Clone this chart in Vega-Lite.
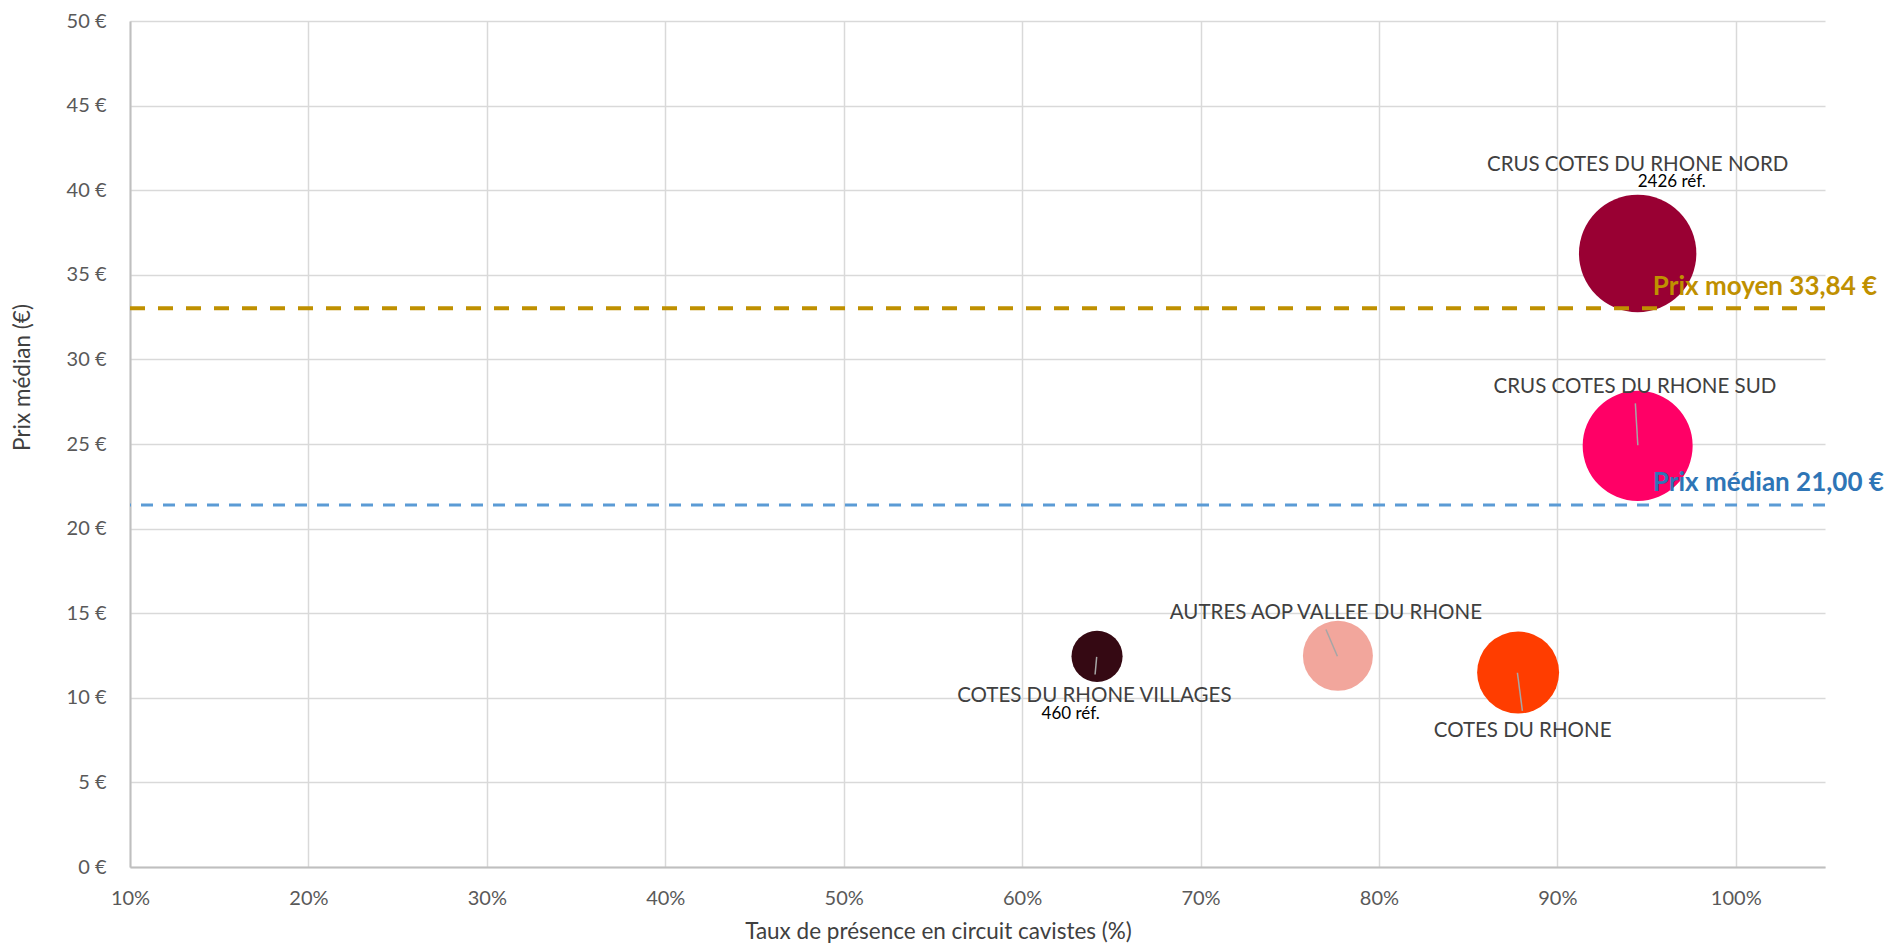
{
  "$schema": "https://vega.github.io/schema/vega-lite/v6.json",
  "width": 1695,
  "height": 846,
  "autosize": {"type": "none"},
  "padding": {"left": 130, "top": 21, "right": 60, "bottom": 77},
  "background": "white",
  "config": {"view": {"stroke": null}, "font": "Lato"},
  "datasets": {
    "bubbles": [
      {"appellation": "CRUS COTES DU RHONE NORD", "presence": 0.945, "prix": 36.26, "refs": 2426},
      {"appellation": "CRUS COTES DU RHONE SUD", "presence": 0.945, "prix": 24.89, "refs": 2130},
      {"appellation": "COTES DU RHONE VILLAGES", "presence": 0.642, "prix": 12.45, "refs": 460},
      {"appellation": "AUTRES AOP VALLEE DU RHONE", "presence": 0.777, "prix": 12.48, "refs": 862},
      {"appellation": "COTES DU RHONE", "presence": 0.878, "prix": 11.49, "refs": 1183}
    ],
    "lines": [
      {"label": "Prix moyen 33,84 €", "prix": 33.03},
      {"label": "Prix médian 21,00 €", "prix": 21.39}
    ],
    "leaders": [
      {"appellation": "CRUS COTES DU RHONE SUD", "presence": 0.9437, "prix": 27.40, "presence_end": 0.9451, "prix_end": 24.93},
      {"appellation": "COTES DU RHONE VILLAGES", "presence": 0.6418, "prix": 12.42, "presence_end": 0.6409, "prix_end": 11.38},
      {"appellation": "AUTRES AOP VALLEE DU RHONE", "presence": 0.7703, "prix": 14.04, "presence_end": 0.7767, "prix_end": 12.46},
      {"appellation": "COTES DU RHONE", "presence": 0.8776, "prix": 11.48, "presence_end": 0.8804, "prix_end": 9.23}
    ]
  },
  "layer": [
    {
      "data": {"name": "bubbles"},
      "mark": {"type": "circle", "opacity": 1},
      "encoding": {
        "x": {
          "field": "presence", "type": "quantitative",
          "scale": {"domain": [0.1, 1.05], "nice": false, "zero": false},
          "axis": {
            "values": [0.1, 0.2, 0.3, 0.4, 0.5, 0.6, 0.7, 0.8, 0.9, 1.0],
            "format": ".0%",
            "grid": true, "gridColor": "#D9D9D9", "gridWidth": 1.5,
            "domainColor": "#BFBFBF", "domainWidth": 2,
            "ticks": false, "tickSize": 0,
            "labelFont": "Lato", "labelFontSize": 20, "labelColor": "#595959",
            "labelPadding": 31, "labelBaseline": "middle",
            "labelFlush": false, "labelOverlap": false,
            "title": "Taux de présence en circuit cavistes (%)",
            "titleFont": "Lato", "titleFontSize": 22.5, "titleFontWeight": "normal", "titleColor": "#404040",
            "titleX": 808, "titleY": 64, "titleAlign": "center", "titleBaseline": "middle"
          }
        },
        "y": {
          "field": "prix", "type": "quantitative",
          "scale": {"domain": [0, 50], "nice": false, "zero": true},
          "axis": {
            "values": [0, 5, 10, 15, 20, 25, 30, 35, 40, 45, 50],
            "labelExpr": "datum.value + ' €'",
            "grid": true, "gridColor": "#D9D9D9", "gridWidth": 1.5,
            "domainColor": "#BFBFBF", "domainWidth": 2,
            "ticks": false, "tickSize": 0,
            "labelFont": "Lato", "labelFontSize": 20, "labelColor": "#595959",
            "labelPadding": 24, "labelBaseline": "middle",
            "labelFlush": false, "labelOverlap": false,
            "title": "Prix médian (€)",
            "titleFont": "Lato", "titleFontSize": 22.5, "titleFontWeight": "normal", "titleColor": "#404040",
            "titleAngle": 270, "titleX": -108, "titleY": 356, "titleAlign": "center", "titleBaseline": "middle"
          }
        },
        "size": {
          "field": "refs", "type": "quantitative",
          "scale": {"type": "linear", "domain": [0, 2426], "range": [0, 13780], "zero": true},
          "legend": null
        },
        "color": {
          "field": "appellation", "type": "nominal",
          "scale": {
            "domain": ["CRUS COTES DU RHONE NORD", "CRUS COTES DU RHONE SUD", "COTES DU RHONE VILLAGES", "AUTRES AOP VALLEE DU RHONE", "COTES DU RHONE"],
            "range": ["#990033", "#FF0066", "#350913", "#F2A69C", "#FF3D00"]
          },
          "legend": null
        }
      }
    },
    {
      "data": {"name": "leaders"},
      "mark": {"type": "rule", "color": "#A6A6A6", "strokeWidth": 1.5},
      "encoding": {
        "x": {"field": "presence", "type": "quantitative"},
        "y": {"field": "prix", "type": "quantitative"},
        "x2": {"field": "presence_end"},
        "y2": {"field": "prix_end"}
      }
    },
    {
      "data": {"name": "lines"},
      "transform": [{"filter": "datum.label == 'Prix moyen 33,84 €'"}],
      "mark": {"type": "rule", "color": "#BF9000", "strokeWidth": 4, "strokeDash": [15, 13]},
      "encoding": {"y": {"field": "prix", "type": "quantitative"}}
    },
    {
      "data": {"name": "lines"},
      "transform": [{"filter": "datum.label == 'Prix médian 21,00 €'"}],
      "mark": {"type": "rule", "color": "#5B9BD5", "strokeWidth": 3, "strokeDash": [12, 10]},
      "encoding": {"y": {"field": "prix", "type": "quantitative"}}
    },
    {
      "data": {"name": "lines"},
      "transform": [{"filter": "datum.label == 'Prix moyen 33,84 €'"}],
      "mark": {"type": "text", "color": "#BF9000", "font": "Lato", "fontSize": 26, "fontWeight": "bold", "align": "left", "baseline": "alphabetic", "dy": -13},
      "encoding": {
        "x": {"datum": 0.9535, "type": "quantitative"},
        "y": {"field": "prix", "type": "quantitative"},
        "text": {"field": "label"}
      }
    },
    {
      "data": {"name": "lines"},
      "transform": [{"filter": "datum.label == 'Prix médian 21,00 €'"}],
      "mark": {"type": "text", "color": "#2E75B6", "font": "Lato", "fontSize": 26, "fontWeight": "bold", "align": "left", "baseline": "alphabetic", "dy": -14},
      "encoding": {
        "x": {"datum": 0.9535, "type": "quantitative"},
        "y": {"field": "prix", "type": "quantitative"},
        "text": {"field": "label"}
      }
    },
    {
      "data": {"name": "bubbles"},
      "transform": [{"filter": "datum.appellation == 'CRUS COTES DU RHONE NORD'"}],
      "mark": {"type": "text", "color": "#404040", "font": "Lato", "fontSize": 20.5, "align": "center", "baseline": "alphabetic", "dx": 0, "dy": -82.6},
      "encoding": {
        "x": {"field": "presence", "type": "quantitative"},
        "y": {"field": "prix", "type": "quantitative"},
        "text": {"field": "appellation"}
      }
    },
    {
      "data": {"name": "bubbles"},
      "transform": [{"filter": "datum.appellation == 'CRUS COTES DU RHONE SUD'"}],
      "mark": {"type": "text", "color": "#404040", "font": "Lato", "fontSize": 20.5, "align": "center", "baseline": "alphabetic", "dx": -2.7, "dy": -52.4},
      "encoding": {
        "x": {"field": "presence", "type": "quantitative"},
        "y": {"field": "prix", "type": "quantitative"},
        "text": {"field": "appellation"}
      }
    },
    {
      "data": {"name": "bubbles"},
      "transform": [{"filter": "datum.appellation == 'COTES DU RHONE VILLAGES'"}],
      "mark": {"type": "text", "color": "#404040", "font": "Lato", "fontSize": 20.5, "align": "center", "baseline": "alphabetic", "dx": -2.7, "dy": 45.5},
      "encoding": {
        "x": {"field": "presence", "type": "quantitative"},
        "y": {"field": "prix", "type": "quantitative"},
        "text": {"field": "appellation"}
      }
    },
    {
      "data": {"name": "bubbles"},
      "transform": [{"filter": "datum.appellation == 'AUTRES AOP VALLEE DU RHONE'"}],
      "mark": {"type": "text", "color": "#404040", "font": "Lato", "fontSize": 20.5, "align": "center", "baseline": "alphabetic", "dx": -12, "dy": -36.7},
      "encoding": {
        "x": {"field": "presence", "type": "quantitative"},
        "y": {"field": "prix", "type": "quantitative"},
        "text": {"field": "appellation"}
      }
    },
    {
      "data": {"name": "bubbles"},
      "transform": [{"filter": "datum.appellation == 'COTES DU RHONE'"}],
      "mark": {"type": "text", "color": "#404040", "font": "Lato", "fontSize": 20.5, "align": "center", "baseline": "alphabetic", "dx": 4.5, "dy": 64.2},
      "encoding": {
        "x": {"field": "presence", "type": "quantitative"},
        "y": {"field": "prix", "type": "quantitative"},
        "text": {"field": "appellation"}
      }
    },
    {
      "data": {"name": "bubbles"},
      "transform": [
        {"filter": "datum.appellation == 'CRUS COTES DU RHONE NORD'"},
        {"calculate": "datum.refs + ' réf.'", "as": "refs_label"}
      ],
      "mark": {"type": "text", "color": "#000000", "font": "Lato", "fontSize": 17, "align": "left", "baseline": "alphabetic", "dx": 0, "dy": -66.6},
      "encoding": {
        "x": {"field": "presence", "type": "quantitative"},
        "y": {"field": "prix", "type": "quantitative"},
        "text": {"field": "refs_label"}
      }
    },
    {
      "data": {"name": "bubbles"},
      "transform": [
        {"filter": "datum.appellation == 'COTES DU RHONE VILLAGES'"},
        {"calculate": "datum.refs + ' réf.'", "as": "refs_label"}
      ],
      "mark": {"type": "text", "color": "#000000", "font": "Lato", "fontSize": 17, "align": "center", "baseline": "alphabetic", "dx": -26.4, "dy": 63.1},
      "encoding": {
        "x": {"field": "presence", "type": "quantitative"},
        "y": {"field": "prix", "type": "quantitative"},
        "text": {"field": "refs_label"}
      }
    }
  ]
}
